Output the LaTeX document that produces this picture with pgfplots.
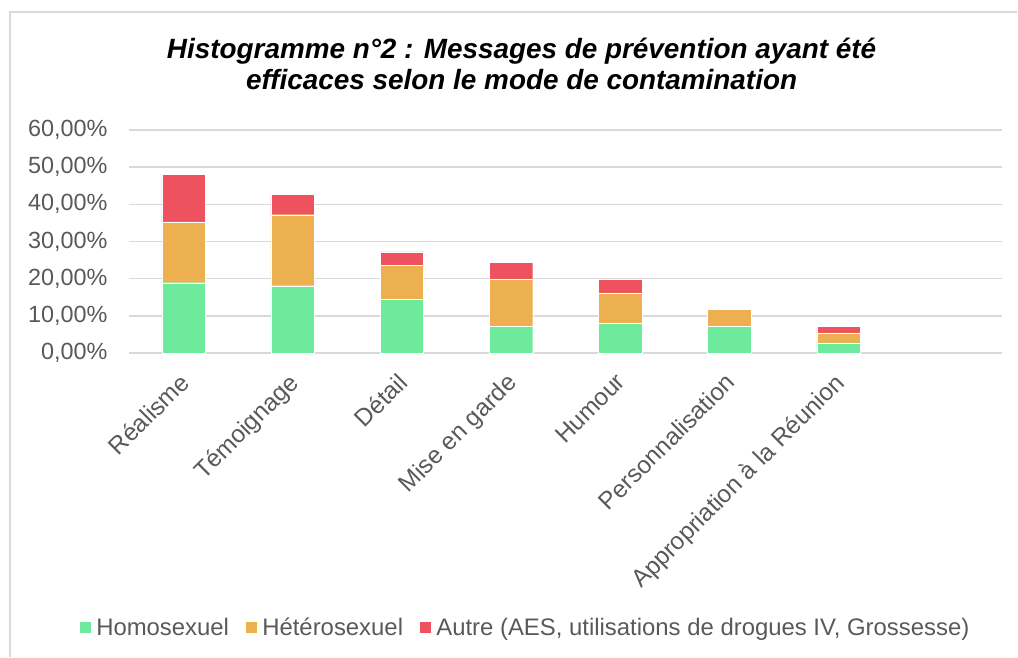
\documentclass[border=0pt]{standalone}
\usepackage{pgfplots}
\pgfplotsset{compat=1.18}
\usepackage{fontspec}
\setmainfont{Liberation Sans}
\definecolor{cgreen}{RGB}{110,234,157}
\definecolor{corange}{RGB}{236,176,80}
\definecolor{cred}{RGB}{238,82,94}
\definecolor{ctext}{RGB}{89,89,89}
\definecolor{cgrid}{RGB}{217,217,217}
\begin{document}
\begin{tikzpicture}[x=1bp,y=1bp]
\path (0,0) rectangle (1018,657);
\draw[cgrid,line width=1.5bp] (10,0) -- (10,645) -- (1018,645);
\node[font=\fontsize{28}{32}\selectfont\bfseries\itshape, align=center, text=black] at (522,593) {Histogramme n°2 : Messages de prévention ayant été\\efficaces selon le mode de contamination};
\begin{axis}[
  at={(129bp,303.7bp)}, anchor=south west,
  scale only axis, width=874bp, height=223.3bp,
  ybar stacked, bar width=43.5bp,
  xmin=-0.5, xmax=7.5, ymin=0, ymax=60,
  axis line style={draw=none},
  ytick={0,10,20,30,40,50,60},
  yticklabels={{0,00\%},{10,00\%},{20,00\%},{30,00\%},{40,00\%},{50,00\%},{60,00\%}},
  xtick={0,1,2,3,4,5,6},
  xticklabels={Réalisme,Témoignage,Détail,Mise en garde,Humour,Personnalisation,Appropriation à la Réunion},
  major tick length=0pt,
  ymajorgrids, grid style={cgrid,line width=1.5bp},
  yticklabel style={font=\fontsize{23.5}{25}\selectfont, text=ctext, xshift=-18bp},
  xticklabel style={font=\fontsize{24.5}{26}\selectfont, text=ctext, rotate=45, anchor=north east, xshift=-13.6bp, yshift=-5.9bp},
  legend style={at={(0.4537,-1.23)}, anchor=center, draw=none, fill=none,
    font=\fontsize{24}{26}\selectfont, text=ctext, legend columns=3,
    /tikz/every even column/.append style={column sep=14bp}},
  legend image code/.code={\fill[#1] (0bp,-6bp) rectangle (12bp,6bp); \path (15bp,0bp);},
]
\addplot[fill=cgreen, draw=white, line width=0.3bp] coordinates {(0,18.9) (1,18.1) (2,14.5) (3,7.1) (4,8.0) (5,7.1) (6,2.7)};
\addplot[fill=corange, draw=white, line width=0.3bp] coordinates {(0,16.4) (1,19.1) (2,9.1) (3,12.7) (4,8.2) (5,4.7) (6,2.7)};
\addplot[fill=cred, draw=white, line width=0.3bp] coordinates {(0,12.8) (1,5.4) (2,3.6) (3,4.6) (4,3.6) (5,0) (6,1.7)};
\legend{Homosexuel,Hétérosexuel,Autre (AES{,} utilisations de drogues IV{,} Grossesse)}
\end{axis}
\end{tikzpicture}
\end{document}
